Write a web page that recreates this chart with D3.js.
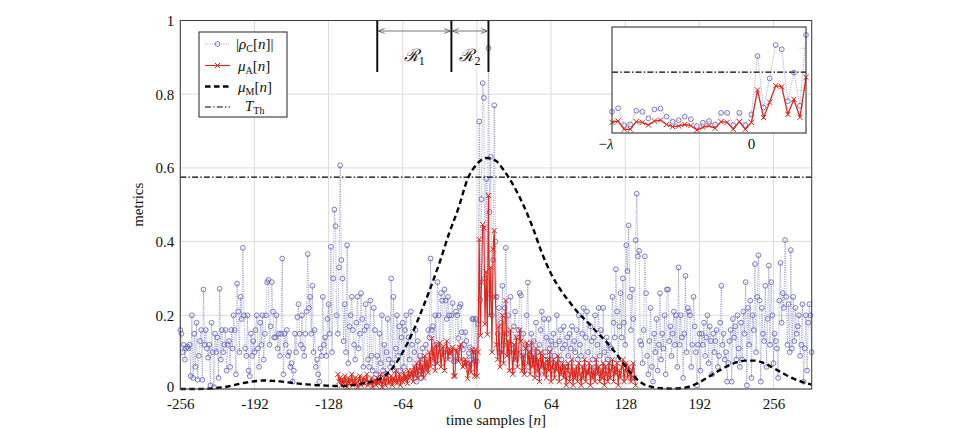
<!DOCTYPE html>
<html><head><meta charset="utf-8">
<script src="https://cdn.jsdelivr.net/npm/d3@7"></script>
<style>
body{margin:0;background:#fff}
svg text{font-family:"Liberation Serif","DejaVu Serif",serif;fill:#111}
</style>
</head><body>
<svg id="c" width="956" height="428" font-family="Liberation Serif"></svg>
<script>
// ---------- data ----------
const blueStart = -256;   // first sample index of |rho_C[n]|
const rhoC = [
0.16,0.15,0.10,0.12,0.08,0.11,0.115,0.11,0.12,0.035,0.2,0.03,0.15,0.06,0.18,0.025,0.09,0.13,0.16,0.025,0.27,0.12,0.16,0.11,0.085,0.12,0.01,0.18,0.1,0.005,0.15,0.1,
0.14,0.03,0.272,0.08,0.16,0.1,0.12,0.16,0.05,0.12,0.13,0.06,0.16,0.11,0.2,0.16,0.04,0.286,0.21,0.1,0.25,0.19,0.383,0.2,0.11,0.09,0.2,0.05,0.035,0.15,0.09,0.13,
0.1,0.16,0.2,0.11,0.06,0.18,0.12,0.2,0.08,0.15,0.2,0.29,0.296,0.12,0.17,0.29,0.21,0.14,0.14,0.2,0.11,0.15,0.09,0.15,0.354,0.04,0.15,0.12,0.16,0.09,0.1,0.06,
0.07,0.02,0.05,0.15,0.1,0.195,0.23,0.15,0.12,0.2,0.11,0.09,0.15,0.21,0.366,0.22,0.25,0.15,0.28,0.1,0.16,0.06,0.08,0.04,0.02,0.11,0.09,0.25,0.12,0.14,0.09,0.19,
0.23,0.15,0.386,0.1,0.3,0.487,0.442,0.2,0.15,0.33,0.607,0.35,0.3,0.13,0.23,0.1,0.39,0.07,0.17,0.2,0.25,0.16,0.12,0.08,0.18,0.25,0.11,0.15,0.26,0.19,0.06,0.16,
0.23,0.17,0.08,0.06,0.24,0.09,0.05,0.22,0.16,0.04,0.09,0.02,0.15,0.07,0.2,0.05,0.12,0.04,0.1,0.19,0.08,0.06,0.30,0.07,0.25,0.05,0.11,0.2,0.09,0.17,0.05,0.14,
0.18,0.06,0.16,0.2,0.03,0.14,0.08,0.21,0.12,0.04,0.1,0.16,0.02,0.13,0.05,0.09,0.03,0.11,0.04,0.08,0.12,0.06,0.16,0.14,0.354,0.16,0.17,0.07,0.2,0.12,0.29,0.2,0.11,0.26,0.24,0.1,0.27,0.24,0.19,0.25,0.2,0.09,
0.20,0.233,0.075,0.08,0.21,0.20,0.138,0.223,0.23,0.154,0.107,0.12,0.154,0.13,0.066,0.097,0.113,0.08,0.19,0.19,0.075,0.19,0.075,0.176,0.726,0.242,0.515,0.83,0.79,0.30,0.57,0.258,0.925,
0.48,0.63,0.2,0.35,0.77,0.40,0.25,0.15,0.22,0.1,0.18,0.28,0.12,0.22,0.383,0.15,0.2,0.1,0.25,0.12,0.05,0.17,0.21,0.08,0.14,0.16,0.26,0.254,0.09,0.15,0.05,0.12,
0.2,0.289,0.06,0.11,0.15,0.08,0.13,0.07,0.18,0.1,0.04,0.12,0.16,0.21,0.06,0.19,0.1,0.14,0.08,0.19,0.11,0.13,0.05,0.15,0.09,0.12,0.2,0.07,0.13,0.16,0.08,0.11,
0.17,0.12,0.06,0.14,0.09,0.15,0.11,0.17,0.05,0.13,0.1,0.16,0.08,0.2,0.12,0.09,0.15,0.22,0.06,0.14,0.21,0.1,0.05,0.17,0.13,0.08,0.14,0.2,0.06,0.12,0.22,0.09,
0.16,0.06,0.22,0.1,0.05,0.14,0.08,0.12,0.06,0.11,0.25,0.18,0.14,0.325,0.21,0.08,0.17,0.26,0.14,0.3,0.18,0.12,0.39,0.32,0.444,0.25,0.16,0.27,0.19,0.03,0.404,0.53,
0.36,0.375,0.13,0.12,0.07,0.16,0.36,0.26,0.09,0.04,0.13,0.22,0.06,0.02,0.15,0.1,0.19,0.05,0.12,0.26,0.08,0.15,0.11,0.2,0.04,0.27,0.27,0.13,0.17,0.09,0.15,0.21,
0.12,0.2,0.06,0.33,0.12,0.2,0.14,0.03,0.15,0.307,0.1,0.22,0.21,0.2,0.06,0.12,0.25,0.17,0.1,0.01,0.12,0.15,0.05,0.15,0.12,0.18,0.09,0.14,0.2,0.07,0.17,0.13,
0.04,0.15,0.1,0.13,0.16,0.06,0.09,0.18,0.28,0.12,0.15,0.08,0.1,0.02,0.07,0.13,0.16,0.02,0.19,0.14,0.17,0.08,0.2,0.11,0.06,0.18,0.08,0.21,0.15,0.29,0.01,0.22,
0.12,0.24,0.03,0.2,0.16,0.339,0.1,0.25,0.363,0.24,0.02,0.22,0.15,0.13,0.28,0.06,0.19,0.335,0.12,0.29,0.2,0.07,0.15,0.13,0.11,0.03,0.24,0.342,0.18,0.26,0.22,0.404,0.25,0.12,0.23,0.1,0.377,0.11,0.25,0.13,0.22,0.15,0.17,0.2,0.09,0.12,0.23,0.02,0.11,0.2,0.05,0.18,0.23,0.2,0.1
];

const redStart = -120;    // first sample index of mu_A[n]
const muA = [
0.04,0.02,0.03,0.01,0.025,0.015,0.035,0.02,0.005,0.03,0.015,0.025,0.04,0.01,0.02,0.03,0.015,0.005,0.025,0.035,0.01,0.02,0.03,0.015,0.025,0.04,0.01,0.02,0.015,0.03,0.005,0.02,
0.025,0.01,0.03,0.015,0.02,0.04,0.005,0.02,0.03,0.01,0.025,0.045,0.015,0.02,0.035,0.01,0.03,0.02,0.05,0.015,0.025,0.04,0.01,0.03,0.02,0.045,0.025,0.035,0.015,0.05,0.03,0.04,
0.05,0.02,0.06,0.035,0.07,0.03,0.055,0.08,0.04,0.065,0.03,0.09,0.05,0.075,0.045,0.1,0.06,0.137,0.08,0.11,0.05,0.12,0.07,0.1,0.125,0.06,0.09,0.115,0.05,0.1,0.13,0.08,0.11,0.095,
0.10,0.113,0.035,0.035,0.107,0.10,0.075,0.113,0.122,0.08,0.06,0.066,0.08,0.07,0.028,0.053,0.07,0.045,0.107,0.10,0.035,0.107,0.035,0.10,0.406,0.145,0.29,0.446,0.437,0.176,0.318,0.148,0.525,
0.2,0.33,0.1,0.38,0.43,0.25,0.12,0.08,0.17,0.06,0.1,0.2,0.07,0.15,0.24,0.09,0.13,0.05,0.16,0.1,0.04,0.12,0.08,0.14,0.06,0.1,0.16,0.13,0.05,0.09,0.04,0.11,
0.125,0.07,0.1,0.04,0.125,0.06,0.09,0.03,0.11,0.05,0.08,0.02,0.1,0.06,0.09,0.04,0.07,0.03,0.08,0.05,0.1,0.02,0.06,0.08,0.03,0.07,0.05,0.09,0.02,0.06,0.04,0.07,
0.03,0.06,0.01,0.05,0.07,0.02,0.04,0.08,0.01,0.05,0.03,0.06,0.02,0.07,0.04,0.01,0.06,0.03,0.08,0.02,0.05,0.04,0.07,0.01,0.06,0.03,0.05,0.02,0.08,0.04,0.06,0.02,
0.05,0.03,0.07,0.01,0.06,0.04,0.02,0.07,0.03,0.05,0.08,0.02,0.06,0.04,0.07,0.01,0.05,0.03,0.06,0.08,0.02,0.05,0.07,0.03,0.06,0.04,0.02,0.05,0.07,0.03,0.01
];

const muMn = [-256,-240,-224,-216,-208,-200,-192,-184,-176,-168,-160,-152,-144,-136,-128,-120,-112,-104,-96,-88,-80,-72,-64,-56,-48,-40,-32,-24,-16,-8,0,8,16,24,32,40,48,56,64,72,80,88,96,104,112,120,128,136,144,152,160,168,176,184,192,200,208,216,224,232,240,248,256,264,272,280,289];
const muMv = [0,0,0.003,0.006,0.012,0.017,0.021,0.023,0.022,0.02,0.017,0.014,0.012,0.01,0.009,0.008,0.009,0.012,0.017,0.022,0.035,0.06,0.1,0.15,0.21,0.275,0.345,0.422,0.49,0.57,0.61,0.627,0.62,0.59,0.55,0.5,0.44,0.37,0.313,0.27,0.236,0.205,0.18,0.153,0.127,0.097,0.063,0.033,0.013,0.005,0.002,0.001,0.002,0.007,0.018,0.033,0.048,0.062,0.072,0.077,0.077,0.07,0.057,0.043,0.03,0.02,0.012];

const threshold = 0.575;
const xTicks = [-256,-192,-128,-64,0,64,128,192,256];
const yTicks = [0,0.2,0.4,0.6,0.8,1];
const yTickLabels = ["0","0.2","0.4","0.6","0.8","1"];
const regionBounds = [-86,-22,10];
const insetDomain = [-22,10];

// ---------- drawing ----------
const svg = d3.select("#c");
const L=180.3, R=811.7, T=20.5, B=389;
const x = d3.scaleLinear().domain([-256,289]).range([L,R]);
const y = d3.scaleLinear().domain([0,1]).range([B,T]);

const blue = rhoC.map((v,i)=>({n:blueStart+i,v}));
const red = muA.map((v,i)=>({n:redStart+i,v}));
const mm = muMn.map((n,i)=>({n,v:muMv[i]}));

const BLUE="#5c5cbc", RED="#e2231a", GRID="#dcdcdc";

// grid
const g = svg.append("g");
g.selectAll(".gx").data(xTicks).join("line").attr("x1",d=>x(d)).attr("x2",d=>x(d)).attr("y1",T).attr("y2",B).attr("stroke",GRID).attr("stroke-width",1);
g.selectAll(".gy").data(yTicks).join("line").attr("x1",L).attr("x2",R).attr("y1",d=>y(d)).attr("y2",d=>y(d)).attr("stroke",GRID).attr("stroke-width",1);

// axes labels
const xa = svg.append("g").attr("transform",`translate(0,${B})`)
  .call(d3.axisBottom(x).tickValues(xTicks).tickSize(0).tickFormat(d=>d3.format("d")(d).replace("−","-")));
xa.select(".domain").remove();
xa.attr("font-family",null);
xa.selectAll("text").attr("dy",null).attr("y",20).style("font-size","15px");
const ya = svg.append("g").attr("transform",`translate(${L},0)`)
  .call(d3.axisLeft(y).tickValues(yTicks).tickSize(0).tickPadding(6).tickFormat((d,i)=>yTickLabels[i]));
ya.select(".domain").remove();
ya.attr("font-family",null);
ya.selectAll("text").style("font-size","15px").attr("dy",d=>d===0?"2.5px":"0.32em");

// axis titles
const xt = svg.append("text").attr("x",(L+R)/2).attr("y",425).attr("text-anchor","middle").style("font-size","15px");
xt.append("tspan").text("time samples [");
xt.append("tspan").attr("font-style","italic").text("n");
xt.append("tspan").text("]");
svg.append("text").attr("transform",`translate(143,${(T+B)/2}) rotate(-90)`).attr("text-anchor","middle").style("font-size","15px").text("metrics");

const plot = svg.append("g");
const line = d3.line().x(d=>x(d.n)).y(d=>y(d.v));
// blue
plot.append("path").datum(blue).attr("d",line).attr("fill","none").attr("stroke",BLUE).attr("stroke-width",0.6).attr("stroke-dasharray","1,1.3");
plot.selectAll(".bc").data(blue).join("circle").attr("cx",d=>x(d.n)).attr("cy",d=>y(d.v)).attr("r",2.4).attr("fill","none").attr("stroke",BLUE).attr("stroke-width",0.8);
// red
plot.append("path").datum(red).attr("d",line).attr("fill","none").attr("stroke",RED).attr("stroke-width",1.1);
const xm = "M-2.6,-2.6L2.6,2.6M-2.6,2.6L2.6,-2.6";
plot.selectAll(".rx").data(red).join("path").attr("d",xm).attr("transform",d=>`translate(${x(d.n)},${y(d.v)})`).attr("stroke",RED).attr("stroke-width",1).attr("fill","none");
// mu_M dashed
plot.append("path").datum(mm).attr("d",d3.line().x(d=>x(d.n)).y(d=>y(d.v)).curve(d3.curveMonotoneX)).attr("fill","none").attr("stroke","#000").attr("stroke-width",2.4).attr("stroke-dasharray","5.5,3.5");
// threshold
plot.append("line").attr("x1",L).attr("x2",R).attr("y1",y(threshold)).attr("y2",y(threshold)).attr("stroke","#000").attr("stroke-width",1.2).attr("stroke-dasharray","6,2.2,1.4,2.2");

// frame
svg.append("rect").attr("x",L).attr("y",T).attr("width",R-L).attr("height",B-T).attr("fill","none").attr("stroke","#444").attr("stroke-width",1.1);

// region markers
const rm = svg.append("g");
rm.selectAll(".rl").data(regionBounds).join("line").attr("x1",d=>x(d)).attr("x2",d=>x(d)).attr("y1",T).attr("y2",72).attr("stroke","#111").attr("stroke-width",2);
const defs = svg.append("defs");
defs.append("marker").attr("id","ah").attr("viewBox","0 0 10 10").attr("refX",10).attr("refY",5).attr("markerWidth",7).attr("markerHeight",7).attr("orient","auto-start-reverse").attr("markerUnits","userSpaceOnUse")
  .append("path").attr("d","M1,1.5L10,5L1,8.5").attr("fill","none").attr("stroke","#555").attr("stroke-width",1.2);
const regions = [[regionBounds[0],regionBounds[1],"1"],[regionBounds[1],regionBounds[2],"2"]];
regions.forEach(([a,b,s])=>{
  rm.append("line").attr("x1",x(a)+1).attr("x2",x(b)-1).attr("y1",31).attr("y2",31).attr("stroke","#555").attr("stroke-width",0.8)
    .attr("marker-start","url(#ah)").attr("marker-end","url(#ah)");
  const t = rm.append("text").attr("x",(x(a)+x(b))/2).attr("y",61).attr("text-anchor","middle").style("font-size","17px");
  t.append("tspan").attr("font-style","italic").style("font-family","DejaVu Serif").text("ℛ");
  t.append("tspan").attr("dy",4).style("font-size","12px").text(s);
});

// legend
const lg = svg.append("g");
lg.append("rect").attr("x",199).attr("y",32).attr("width",88).attr("height",85).attr("fill","#fff").attr("stroke","#222").attr("stroke-width",1);
const ly=[44,65.5,86.5,107];
// 1
lg.append("line").attr("x1",205).attr("x2",230).attr("y1",ly[0]).attr("y2",ly[0]).attr("stroke",BLUE).attr("stroke-width",0.6).attr("stroke-dasharray","1,1.3");
lg.append("circle").attr("cx",217.5).attr("cy",ly[0]).attr("r",2.4).attr("fill","none").attr("stroke",BLUE).attr("stroke-width",0.8);
let t1=lg.append("text").attr("x",236).attr("y",ly[0]+5).style("font-size","15px");
t1.append("tspan").text("|"); t1.append("tspan").attr("font-style","italic").text("ρ");
t1.append("tspan").attr("dy",3).style("font-size","10px").text("C");
t1.append("tspan").attr("dy",-3).text("["); t1.append("tspan").attr("font-style","italic").text("n"); t1.append("tspan").text("]|");
// 2
lg.append("line").attr("x1",205).attr("x2",230).attr("y1",ly[1]).attr("y2",ly[1]).attr("stroke",RED).attr("stroke-width",1.1);
lg.append("path").attr("d",xm).attr("transform",`translate(217.5,${ly[1]})`).attr("stroke",RED).attr("stroke-width",1).attr("fill","none");
let t2=lg.append("text").attr("x",238).attr("y",ly[1]+5).style("font-size","15px");
t2.append("tspan").attr("font-style","italic").text("μ");
t2.append("tspan").attr("dy",3).style("font-size","10px").text("A");
t2.append("tspan").attr("dy",-3).text("["); t2.append("tspan").attr("font-style","italic").text("n"); t2.append("tspan").text("]");
// 3
lg.append("line").attr("x1",205).attr("x2",230).attr("y1",ly[2]).attr("y2",ly[2]).attr("stroke","#000").attr("stroke-width",2.4).attr("stroke-dasharray","5.5,3.5");
let t3=lg.append("text").attr("x",238).attr("y",ly[2]+5).style("font-size","15px");
t3.append("tspan").attr("font-style","italic").text("μ");
t3.append("tspan").attr("dy",3).style("font-size","10px").text("M");
t3.append("tspan").attr("dy",-3).text("["); t3.append("tspan").attr("font-style","italic").text("n"); t3.append("tspan").text("]");
// 4
lg.append("line").attr("x1",205).attr("x2",230).attr("y1",ly[3]).attr("y2",ly[3]).attr("stroke","#000").attr("stroke-width",1.2).attr("stroke-dasharray","6,2.2,1.4,2.2");
let t4=lg.append("text").attr("x",245).attr("y",ly[3]+4).style("font-size","15px");
t4.append("tspan").attr("font-style","italic").text("T");
t4.append("tspan").attr("dy",3).style("font-size","10px").text("Th");

// inset
const iL=612, iR=806, iT=27, iB=133;
const ix = d3.scaleLinear().domain(insetDomain).range([iL,iR]);
const iy = d3.scaleLinear().domain([0,1]).range([iB,iT]);
const inset = svg.append("g");
inset.append("rect").attr("x",iL).attr("y",iT).attr("width",iR-iL).attr("height",iB-iT).attr("fill","#fff");
[0.4,0.8].forEach(v=>inset.append("line").attr("x1",iR-7).attr("x2",iR).attr("y1",iy(v)).attr("y2",iy(v)).attr("stroke",GRID));
const ib = blue.filter(d=>d.n>=insetDomain[0]&&d.n<=insetDomain[1]);
const ir = red.filter(d=>d.n>=insetDomain[0]&&d.n<=insetDomain[1]);
const iline = d3.line().x(d=>ix(d.n)).y(d=>iy(d.v));
inset.append("line").attr("x1",iL).attr("x2",iR).attr("y1",iy(threshold)).attr("y2",iy(threshold)).attr("stroke","#000").attr("stroke-width",1.2).attr("stroke-dasharray","6,2.2,1.4,2.2");
inset.append("path").datum(ib).attr("d",iline).attr("fill","none").attr("stroke",BLUE).attr("stroke-width",0.6).attr("stroke-dasharray","1,1.3");
inset.selectAll(".ibc").data(ib).join("circle").attr("cx",d=>ix(d.n)).attr("cy",d=>iy(d.v)).attr("r",2.4).attr("fill","none").attr("stroke",BLUE).attr("stroke-width",0.8);
inset.append("path").datum(ir).attr("d",iline).attr("fill","none").attr("stroke",RED).attr("stroke-width",1.3);
inset.selectAll(".irx").data(ir).join("path").attr("d",xm).attr("transform",d=>`translate(${ix(d.n)},${iy(d.v)})`).attr("stroke",RED).attr("stroke-width",1).attr("fill","none");
inset.append("rect").attr("x",iL).attr("y",iT).attr("width",iR-iL).attr("height",iB-iT).attr("fill","none").attr("stroke","#333").attr("stroke-width",1.1);
const il1 = inset.append("text").attr("x",ix(insetDomain[0])-6).attr("y",iB+16).attr("text-anchor","middle").style("font-size","15px");
il1.append("tspan").text("−"); il1.append("tspan").attr("font-style","italic").text("λ");
inset.append("text").attr("x",ix(0)+6).attr("y",iB+16).attr("text-anchor","middle").style("font-size","15px").text("0");
</script>
</body></html>
